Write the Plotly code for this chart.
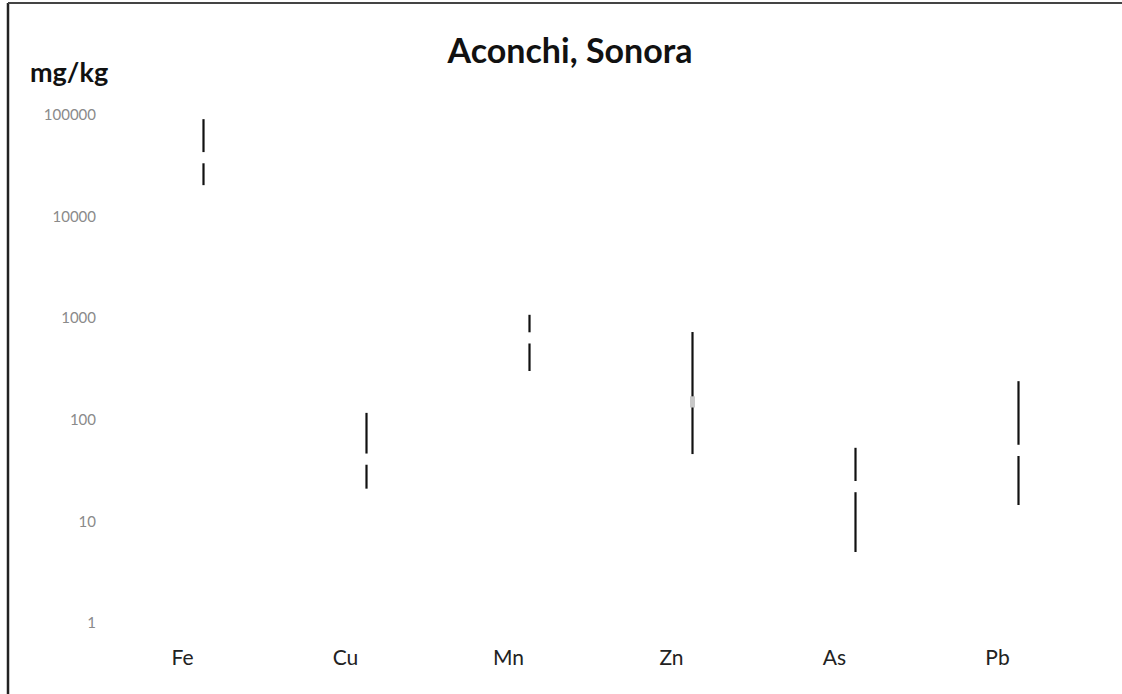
import plotly.graph_objects as go

elements = ["Fe", "Cu", "Mn", "Zn", "As", "Pb"]
max_vals = [91000, 117, 1080, 731, 53, 240]
min_vals = [20400, 21, 302, 46, 5, 14.5]
mean_vals = [38000, 41, 640, 150, 22, 50]
mean_colors = ["white", "white", "white", "#c8c8c8", "white", "white"]
y_tick_vals = [1, 10, 100, 1000, 10000, 100000]
y_tick_text = ["1", "10", "100", "1000", "10000", "100000"]

W, H = 1122, 694
ML, MR, MT, MB = 122, 22, 115, 71

xs, ys = [], []
for e, lo, hi in zip(elements, min_vals, max_vals):
    xs += [e, e, None]
    ys += [lo, hi, None]

fig = go.Figure()
fig.add_trace(go.Scatter(
    x=xs, y=ys, mode="lines",
    line=dict(color="#111111", width=2.2),
    hoverinfo="skip", showlegend=False,
))
fig.add_trace(go.Scatter(
    x=elements, y=mean_vals, mode="markers",
    marker=dict(symbol="line-ns", size=8,
                line=dict(color=mean_colors, width=5)),
    showlegend=False,
))

fig.update_layout(
    width=W, height=H,
    margin=dict(l=ML, r=MR, t=MT, b=MB),
    paper_bgcolor="white", plot_bgcolor="white",
    showlegend=False,
    title=dict(text="<b>Aconchi, Sonora</b>", x=570 / W, xanchor="center",
               xref="paper", yref="container",
               y=1 - 51 / H, yanchor="middle",
               font=dict(family="Lato", size=34, color="#111111")),
    xaxis=dict(type="category", range=[-0.5, 5.5], showgrid=False,
               zeroline=False, showline=False, ticks="",
               ticklabelshift=-21,
               tickfont=dict(family="Lato", size=21, color="#222222"),
               ticklabelstandoff=20),
    yaxis=dict(type="log", range=[0, 5], showgrid=False, zeroline=False,
               showline=False, ticks="",
               tickvals=y_tick_vals, ticktext=y_tick_text,
               tickfont=dict(family="Lato", size=15, color="#8a8a8a"),
               ticklabelstandoff=25),
)

def px_x(p):
    return (p - ML) / (W - ML - MR)

def px_y(p):
    return (H - MB - p) / (H - MT - MB)

fig.update_layout(title_x=px_x(570))

fig.add_annotation(text="<b>mg/kg</b>", xref="paper", yref="paper",
                   x=px_x(28), xanchor="left",
                   y=px_y(72), yanchor="middle", showarrow=False,
                   font=dict(family="Lato", size=27, color="#111111"))

fig.add_shape(type="line", xref="paper", yref="paper",
              x0=px_x(8), x1=px_x(8), y0=px_y(3), y1=px_y(694),
              line=dict(color="#222222", width=2.5))
fig.add_shape(type="line", xref="paper", yref="paper",
              x0=px_x(8), x1=px_x(1122), y0=px_y(3), y1=px_y(3),
              line=dict(color="#444444", width=2))

fig.write_html("out.html")
